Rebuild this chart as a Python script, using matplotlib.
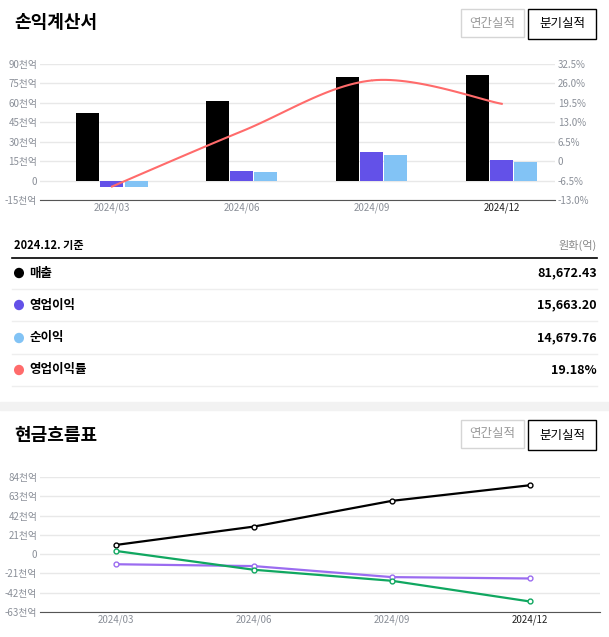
import numpy as np
import matplotlib
matplotlib.use("Agg")
import matplotlib.pyplot as plt
from matplotlib.patches import Rectangle
from matplotlib.lines import Line2D

plt.rcParams["font.family"] = ["Noto Sans CJK JP", "Noto Sans CJK KR", "DejaVu Sans"]

quarters = ["2024/03", "2024/06", "2024/09", "2024/12"]
revenue = [52500, 61500, 79800, 81672.43]
op_income = [-4800, 7300, 21800, 15663.20]
net_income = [-4900, 6700, 19600, 14679.76]
op_margin = [-8.5, 10.0, 27.0, 19.18]

cf_operating = [10, 30, 58, 75]
cf_investing = [-11, -13, -25, -26.5]
cf_financing = [3.5, -17, -29, -51.5]

left_ticks = [-15, 0, 15, 30, 45, 60, 75, 90]
left_labels = ["-15천억", "0", "15천억", "30천억", "45천억", "60천억", "75천억", "90천억"]
right_ticks = [-13.0, -6.5, 0, 6.5, 13.0, 19.5, 26.0, 32.5]
right_labels = ["-13.0%", "-6.5%", "0", "6.5%", "13.0%", "19.5%", "26.0%", "32.5%"]
cf_ticks = [-63, -42, -21, 0, 21, 42, 63, 84]
cf_labels = ["-63천억", "-42천억", "-21천억", "0", "21천억", "42천억", "63천억", "84천억"]

legend_names = ["매출", "영업이익", "순이익", "영업이익률"]
legend_values = ["81,672.43", "15,663.20", "14,679.76", "19.18%"]
colors = ["#000000", "#6351e8", "#82c3f5", "#ff6b6b"]

W, H = 609, 637
fig = plt.figure(figsize=(W / 100, H / 100), dpi=100)

def fx(p): return p / W
def fy(p): return 1 - p / H
def ax_rect(x0, y0, x1, y1):
    return [fx(x0), fy(y1), fx(x1) - fx(x0), fy(y0) - fy(y1)]

GRAY = "#8a8f98"

def buttons(ytop):
    fig.patches.append(Rectangle((fx(461), fy(ytop + 28)), fx(63), 28 / H, transform=fig.transFigure,
                                 fill=False, ec="#d5d5d5", lw=1))
    fig.text(fx(492), fy(ytop + 14), "연간실적", ha="center", va="center", fontsize=9, color="#999999")
    fig.patches.append(Rectangle((fx(528), fy(ytop + 30)), fx(68), 30 / H, transform=fig.transFigure,
                                 fill=False, ec="#000000", lw=1))
    fig.text(fx(562), fy(ytop + 15), "분기실적", ha="center", va="center", fontsize=9, color="#000000")

# ---------- Top section ----------
fig.text(fx(14), fy(22), "손익계산서", fontsize=13, fontweight="bold", va="center")
buttons(9)

ax = fig.add_axes(ax_rect(40, 64, 555, 200))
x = np.arange(len(quarters))
bw = 0.177
ax.bar(x - 0.185, [v / 1000 for v in revenue], bw, color=colors[0], zorder=3)
ax.bar(x, [v / 1000 for v in op_income], bw, color=colors[1], zorder=3)
ax.bar(x + 0.185, [v / 1000 for v in net_income], bw, color=colors[2], zorder=3)
ax.set_xlim(-0.554, 3.41)
ax.set_ylim(-15, 90)
ax.set_yticks(left_ticks)
ax.set_yticklabels(left_labels)
ax.set_xticks(x)
ax.set_xticklabels(quarters)
for sp in ["top", "right", "left"]:
    ax.spines[sp].set_visible(False)
ax.spines["bottom"].set_color("#555555")
ax.tick_params(length=0, labelsize=7, colors=GRAY, pad=2)
ax.get_xticklabels()[-1].set_color("#222222")
ax.grid(axis="y", color="#e8e8e8", lw=1, zorder=0)
ax.set_axisbelow(True)

ax2 = ax.twinx()
px = x.astype(float)
py = np.array(op_margin)
xs_all, ys_all = [], []
P = list(zip(px, py))
P = [P[0]] + P + [P[-1]]
for i in range(1, len(P) - 2):
    p0, p1, p2, p3 = map(np.array, P[i - 1:i + 3])
    t = np.linspace(0, 1, 30)[:, None]
    c = 0.5 * ((2 * p1) + (-p0 + p2) * t + (2 * p0 - 5 * p1 + 4 * p2 - p3) * t ** 2 + (-p0 + 3 * p1 - 3 * p2 + p3) * t ** 3)
    xs_all.extend(c[:, 0]); ys_all.extend(c[:, 1])
ax2.plot(xs_all, ys_all, color=colors[3], lw=1.5)
ax2.set_ylim(-13, 32.5)
ax2.set_yticks(right_ticks)
ax2.set_yticklabels(right_labels)
for sp in ["top", "right", "left", "bottom"]:
    ax2.spines[sp].set_visible(False)
ax2.tick_params(length=0, labelsize=7, colors=GRAY, pad=2)

# ---------- Table ----------
fig.text(fx(14), fy(245), "2024.12. 기준", fontsize=8, fontweight="bold", va="center")
fig.text(fx(597), fy(245), "원화(억)", fontsize=8, color="#888888", ha="right", va="center")
fig.lines.append(Line2D([fx(12), fx(597)], [fy(258), fy(258)], color="black", lw=1.2, transform=fig.transFigure))
rows_y = [273, 305, 338, 370]
for i, yy in enumerate(rows_y):
    fig.patches.append(plt.Circle((fx(19), fy(yy)), 4.5 / H, transform=fig.transFigure, color=colors[i]))
    fig.text(fx(29), fy(yy), legend_names[i], fontsize=9, fontweight="bold", va="center")
    fig.text(fx(597), fy(yy), legend_values[i], fontsize=9, fontweight="bold", va="center", ha="right")
    fig.lines.append(Line2D([fx(12), fx(597)], [fy(yy + 16), fy(yy + 16)], color="#eeeeee", lw=1, transform=fig.transFigure))

fig.patches.append(Rectangle((0, fy(410)), 1, 8 / H, transform=fig.transFigure, color="#f2f2f2"))

# ---------- Bottom section ----------
fig.text(fx(14), fy(435), "현금흐름표", fontsize=13, fontweight="bold", va="center")
buttons(420)

bx = fig.add_axes(ax_rect(40, 477, 600, 612))
xb = np.arange(len(quarters))
for vals, c in [(cf_operating, "#000000"), (cf_investing, "#9b6cf0"), (cf_financing, "#10a760")]:
    bx.plot(xb, vals, color=c, lw=1.6, marker="o", ms=3.5, mfc="white", mec=c, mew=1, zorder=3)
bx.set_xlim(-0.55, 3.51)
bx.set_ylim(-63, 84)
bx.set_yticks(cf_ticks)
bx.set_yticklabels(cf_labels)
bx.set_xticks(xb)
bx.set_xticklabels(quarters)
for sp in ["top", "right", "left"]:
    bx.spines[sp].set_visible(False)
bx.spines["bottom"].set_color("#555555")
bx.tick_params(length=0, labelsize=7, colors=GRAY, pad=2)
bx.get_xticklabels()[-1].set_color("#222222")
bx.grid(axis="y", color="#e8e8e8", lw=1, zorder=0)
bx.set_axisbelow(True)

fig.savefig("out.png", dpi=100, facecolor="white")
